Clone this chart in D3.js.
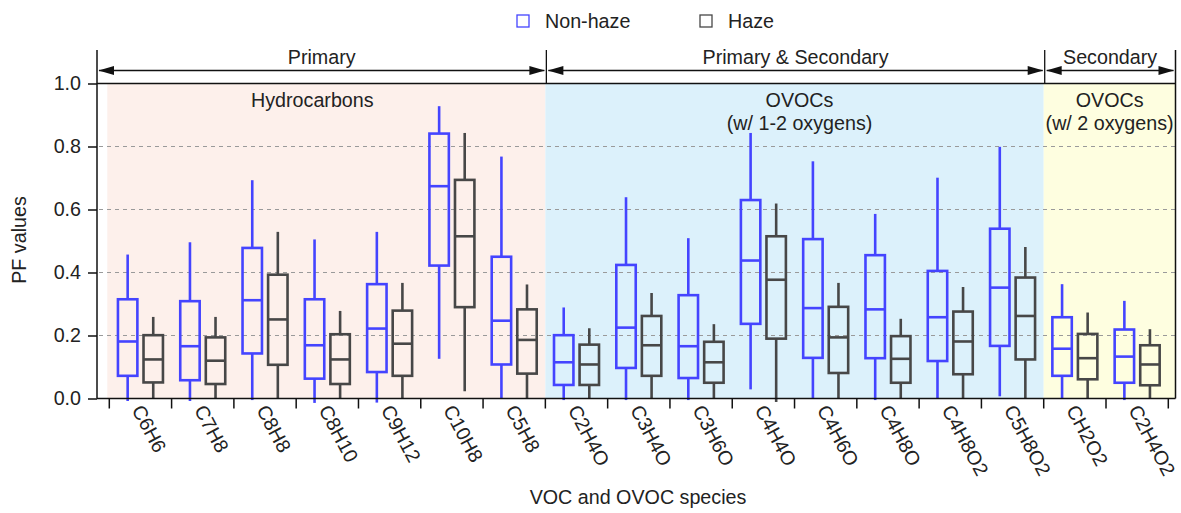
<!DOCTYPE html>
<html lang="en">
<head>
<meta charset="utf-8">
<style>
    body { margin: 0; background: #fff; }
    svg { font-family: "Liberation Sans", Arial, Helvetica, sans-serif; }
    svg text { fill: #222; }
    .grid line { stroke: #9a9a9a; stroke-width: 1.2px; stroke-dasharray: 4,4; }
    .axis path, .axis line { stroke: #111; }
</style>
</head>
<body>
<div id="chart"></div>
<script src="https://d3js.org/d3.v7.min.js"></script>
<script>
    // species on the x axis
    var species = ["C6H6", "C7H8", "C8H8", "C8H10", "C9H12", "C10H8", "C5H8",
                   "C2H4O", "C3H4O", "C3H6O", "C4H4O", "C4H6O", "C4H8O", "C4H8O2", "C5H8O2",
                   "CH2O2", "C2H4O2"];

    // non-haze boxes: whisker low, q1, median, q3, whisker high
    var nonHazeLow    = [-0.008, -0.008, -0.005, -0.014, -0.013, 0.126, 0.000, -0.005, -0.005, -0.005, 0.029, 0.000, -0.005, 0.000, 0.007, 0.000, -0.005];
    var nonHazeQ1     = [0.072, 0.058, 0.143, 0.063, 0.084, 0.422, 0.108, 0.043, 0.097, 0.065, 0.237, 0.129, 0.128, 0.119, 0.167, 0.072, 0.050];
    var nonHazeMedian = [0.181, 0.166, 0.312, 0.169, 0.222, 0.674, 0.247, 0.115, 0.225, 0.166, 0.438, 0.287, 0.283, 0.258, 0.352, 0.158, 0.133];
    var nonHazeQ3     = [0.315, 0.309, 0.478, 0.315, 0.363, 0.841, 0.450, 0.201, 0.424, 0.328, 0.630, 0.506, 0.455, 0.405, 0.539, 0.258, 0.219];
    var nonHazeHigh   = [0.457, 0.496, 0.693, 0.505, 0.529, 0.928, 0.768, 0.289, 0.639, 0.509, 0.843, 0.753, 0.586, 0.701, 0.799, 0.363, 0.310];

    // haze boxes
    var hazeLow    = [0.000, 0.000, 0.000, 0.000, 0.000, 0.023, 0.000, 0.000, 0.000, 0.000, -0.011, 0.000, 0.000, 0.000, 0.000, 0.000, 0.000];
    var hazeQ1     = [0.051, 0.046, 0.107, 0.046, 0.072, 0.290, 0.079, 0.043, 0.072, 0.050, 0.190, 0.081, 0.050, 0.077, 0.124, 0.061, 0.042];
    var hazeMedian = [0.124, 0.120, 0.251, 0.124, 0.174, 0.515, 0.186, 0.108, 0.169, 0.115, 0.377, 0.194, 0.126, 0.181, 0.262, 0.128, 0.108];
    var hazeQ3     = [0.201, 0.194, 0.393, 0.204, 0.279, 0.694, 0.283, 0.171, 0.262, 0.180, 0.515, 0.291, 0.198, 0.276, 0.384, 0.205, 0.169];
    var hazeHigh   = [0.259, 0.259, 0.529, 0.278, 0.367, 0.843, 0.362, 0.223, 0.335, 0.236, 0.619, 0.367, 0.253, 0.354, 0.481, 0.273, 0.220];

    var yTicks = [0, 0.2, 0.4, 0.6, 0.8, 1.0];
    var gridTicks = [0.2, 0.4, 0.6, 0.8];

    // groups of species
    var groupStart = [0, 7, 15];
    var sourceLabels = ["Primary", "Primary & Secondary", "Secondary"];
    var classLines = [["Hydrocarbons"], ["OVOCs", "(w/ 1-2 oxygens)"], ["OVOCs", "(w/ 2 oxygens)"]];
    var groupColors = ["#fdf0eb", "#dcf1fb", "#fefee0"];

    var seriesNames = ["Non-haze", "Haze"];
    var seriesColors = ["#4444ff", "#474747"];

    var width = 1181,
        height = 513,
        axisX = 97,
        plotRight = 1175.5,
        yBottom = 398.5,
        yTop = 83.5,
        fontSize = "19.7px",
        classShift = [-14, 5, 0]; // label nudges inside the shaded areas

    var svg = d3.select("#chart").append("svg")
        .attr("width", width)
        .attr("height", height);

    var x = d3.scaleBand().domain(species).range([109.3, 1168.3]);
    var bw = x.bandwidth();
    var xs = d3.scaleBand().domain(seriesNames).range([bw / 2 - 22.5, bw / 2 + 22.5]).paddingInner(0.24);
    var y = d3.scaleLinear().domain([0, 1]).range([yBottom, yTop]);

    // edges of the groups
    var edges = groupStart.map(function (s) { return x(species[s]); });
    edges.push(plotRight);

    // shaded backgrounds
    svg.selectAll(".bg")
        .data(groupStart)
        .enter()
        .append("rect")
        .attr("class", "bg")
        .attr("x", function (d, i) { return i == 0 ? edges[0] - 2 : edges[i]; })
        .attr("y", yTop)
        .attr("width", function (d, i) { return edges[i + 1] - (i == 0 ? edges[0] - 2 : edges[i]); })
        .attr("height", yBottom - yTop)
        .attr("fill", function (d, i) { return groupColors[i]; });

    // dashed grid
    svg.append("g").attr("class", "grid")
        .selectAll("line")
        .data(gridTicks)
        .enter()
        .append("line")
        .attr("x1", axisX + 2)
        .attr("x2", plotRight)
        .attr("y1", function (d) { return y(d); })
        .attr("y2", function (d) { return y(d); });

    // class labels inside the plot
    classLines.forEach(function (lines, i) {
        var cx = ((i == 0 ? edges[0] - 2 : edges[i]) + edges[i + 1]) / 2 + classShift[i];
        svg.append("text")
            .attr("x", cx)
            .attr("y", 107)
            .attr("text-anchor", "middle")
            .style("font-size", fontSize)
            .selectAll("tspan")
            .data(lines)
            .enter()
            .append("tspan")
            .attr("x", cx)
            .attr("dy", function (d, j) { return j == 0 ? 0 : 23; })
            .text(function (d) { return d; });
    });

    // boxes
    var boxData = [];
    species.forEach(function (s, i) {
        boxData.push({sp: s, series: seriesNames[0], color: seriesColors[0],
            low: nonHazeLow[i], q1: nonHazeQ1[i], med: nonHazeMedian[i], q3: nonHazeQ3[i], high: nonHazeHigh[i]});
        boxData.push({sp: s, series: seriesNames[1], color: seriesColors[1],
            low: hazeLow[i], q1: hazeQ1[i], med: hazeMedian[i], q3: hazeQ3[i], high: hazeHigh[i]});
    });

    var box = svg.selectAll(".box")
        .data(boxData)
        .enter()
        .append("g")
        .attr("class", "box")
        .attr("transform", function (d) { return "translate(" + (x(d.sp) + xs(d.series)) + ",0)"; })
        .style("stroke", function (d) { return d.color; })
        .style("stroke-width", 2.6)
        .style("fill", "none");

    var bb = xs.bandwidth();

    box.append("line")
        .attr("x1", bb / 2).attr("x2", bb / 2)
        .attr("y1", function (d) { return y(d.q3); })
        .attr("y2", function (d) { return y(d.high); });
    box.append("line")
        .attr("x1", bb / 2).attr("x2", bb / 2)
        .attr("y1", function (d) { return y(d.q1); })
        .attr("y2", function (d) { return y(d.low); });
    box.append("rect")
        .attr("x", 0)
        .attr("width", bb)
        .attr("y", function (d) { return y(d.q3); })
        .attr("height", function (d) { return y(d.q1) - y(d.q3); });
    box.append("line")
        .attr("x1", 0).attr("x2", bb)
        .attr("y1", function (d) { return y(d.med); })
        .attr("y2", function (d) { return y(d.med); });

    // y axis
    var yAxis = svg.append("g")
        .attr("class", "axis")
        .attr("transform", "translate(" + axisX + ",0)")
        .call(d3.axisLeft(y).tickValues(yTicks).tickFormat(d3.format(".1f")).tickSize(9).tickPadding(7));
    yAxis.select(".domain").remove();
    yAxis.selectAll("text").style("font-size", fontSize).attr("fill", "#222");
    yAxis.selectAll("line").style("stroke-width", 1.5);

    // frame lines
    svg.append("line").attr("x1", axisX).attr("x2", axisX).attr("y1", 50).attr("y2", yBottom)
        .style("stroke", "#111").style("stroke-width", 1.5);
    svg.append("line").attr("x1", axisX).attr("x2", plotRight).attr("y1", yTop).attr("y2", yTop)
        .style("stroke", "#111").style("stroke-width", 1.5);
    svg.append("line").attr("x1", axisX).attr("x2", plotRight).attr("y1", yBottom).attr("y2", yBottom)
        .style("stroke", "#111").style("stroke-width", 1.5);
    svg.append("line").attr("x1", plotRight).attr("x2", plotRight).attr("y1", 50).attr("y2", yBottom)
        .style("stroke", "#111").style("stroke-width", 1.5);

    // x ticks between species
    var tickEdges = species.map(function (s) { return x(s); }).concat([x(species[species.length - 1]) + bw]);
    svg.selectAll(".xtick")
        .data(tickEdges)
        .enter()
        .append("line")
        .attr("class", "xtick")
        .attr("x1", function (d) { return d; })
        .attr("x2", function (d) { return d; })
        .attr("y1", yBottom)
        .attr("y2", yBottom + 10)
        .style("stroke", "#111")
        .style("stroke-width", 1.5);

    // x labels, rotated
    svg.selectAll(".xlab")
        .data(species)
        .enter()
        .append("text")
        .attr("class", "xlab")
        .attr("transform", function (d) { return "translate(" + (x(d) + bw / 2 - 3) + "," + (yBottom + 8) + ") rotate(62)"; })
        .attr("dy", "0.35em")
        .style("font-size", fontSize)
        .text(function (d) { return d; });

    // source arrows on top
    var arrowY = 70.5;
    var sepX = [axisX, edges[1] + 1, edges[2] + 1, plotRight];
    sourceLabels.forEach(function (lab, i) {
        var a = sepX[i], b = sepX[i + 1];
        if (i > 0) {
            svg.append("line").attr("x1", a).attr("x2", a).attr("y1", 50).attr("y2", yTop)
                .style("stroke", "#111").style("stroke-width", 1.3);
        }
        svg.append("line").attr("x1", a + 2).attr("x2", b - 2).attr("y1", arrowY).attr("y2", arrowY)
            .style("stroke", "#111").style("stroke-width", 1.5);
        svg.append("path")
            .attr("d", "M" + (a + 1.5) + "," + arrowY + "L" + (a + 17) + "," + (arrowY - 4.5) + "L" + (a + 17) + "," + (arrowY + 4.5) + "Z")
            .attr("fill", "#111");
        svg.append("path")
            .attr("d", "M" + (b - 1.5) + "," + arrowY + "L" + (b - 17) + "," + (arrowY - 4.5) + "L" + (b - 17) + "," + (arrowY + 4.5) + "Z")
            .attr("fill", "#111");
        svg.append("text")
            .attr("x", (a + b) / 2)
            .attr("y", 64)
            .attr("text-anchor", "middle")
            .style("font-size", fontSize)
            .text(lab);
    });

    // legend
    var legX = [517, 700];
    var leg = svg.selectAll(".leg")
        .data(seriesNames)
        .enter()
        .append("g")
        .attr("class", "leg")
        .attr("transform", function (d, i) { return "translate(" + legX[i] + ",15)"; });
    leg.append("rect")
        .attr("width", 12).attr("height", 12)
        .attr("fill", "none")
        .attr("stroke", function (d, i) { return seriesColors[i]; })
        .attr("stroke-width", 1.3);
    leg.append("text")
        .attr("x", 28)
        .attr("y", 13)
        .style("font-size", fontSize)
        .text(function (d) { return d; });

    // axis titles
    svg.append("text")
        .attr("x", 638)
        .attr("y", 504)
        .attr("text-anchor", "middle")
        .style("font-size", fontSize)
        .text("VOC and OVOC species");
    svg.append("text")
        .attr("transform", "translate(26,240) rotate(-90)")
        .attr("text-anchor", "middle")
        .style("font-size", fontSize)
        .text("PF values");
</script>
</body>
</html>
